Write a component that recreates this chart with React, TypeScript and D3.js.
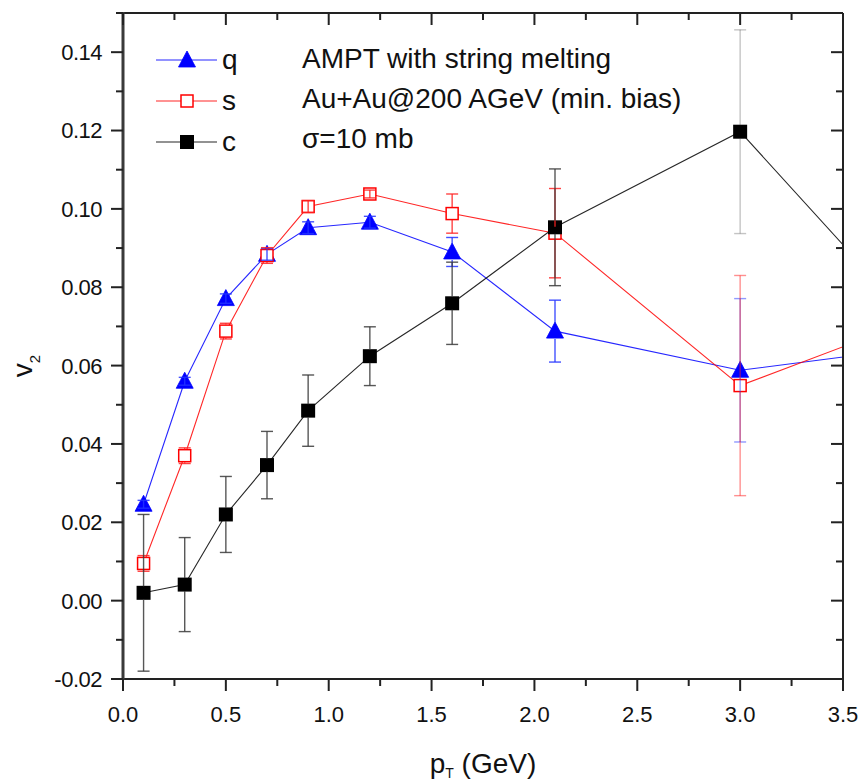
import React from "react";
import * as d3 from "d3";

// ---- data ----
const pT = [0.1, 0.3, 0.5, 0.7, 0.9, 1.2, 1.6, 2.1, 3.0, 4.0];
const qV2 = [0.0246, 0.056, 0.0771, 0.0884, 0.0952, 0.0966, 0.089, 0.0688, 0.0588, 0.0656];
const qErr = [0.001, 0.001, 0.0012, 0.0015, 0.0015, 0.0015, 0.0037, 0.0079, 0.0183, 0];
const sV2 = [0.0095, 0.037, 0.0688, 0.0881, 0.1006, 0.1038, 0.0988, 0.0938, 0.0549, 0.0747];
const sErr = [0.002, 0.002, 0.002, 0.002, 0.0015, 0.001, 0.005, 0.0114, 0.0281, 0];
const cV2 = [0.002, 0.0041, 0.022, 0.0346, 0.0485, 0.0624, 0.0759, 0.0953, 0.1197, 0.062];
const cErr = [0.02, 0.012, 0.0097, 0.0086, 0.0091, 0.0075, 0.0105, 0.0149, 0.026, 0];

const xTicks = [0, 0.5, 1.0, 1.5, 2.0, 2.5, 3.0, 3.5];
const yTicks = [-0.02, 0, 0.02, 0.04, 0.06, 0.08, 0.1, 0.12, 0.14];
const legendLabels = ["q", "s", "c"];
const noteLines = ["AMPT with string melting", "Au+Au@200 AGeV (min. bias)", "\u03C3=10 mb"];

const W = 860, H = 780;
const L = 123, R = 843, T = 13, B = 679;
const FONT = "'Liberation Sans', Arial, Helvetica, sans-serif";

const x = d3.scaleLinear().domain([0, 3.5]).range([L, R]);
const y = d3.scaleLinear().domain([-0.02, 0.15]).range([B, T]);

type Series = { name: string; v: number[]; e: number[]; color: string; marker: "tri" | "open" | "fill" };
const series: Series[] = [
  { name: "q", v: qV2, e: qErr, color: "#0000ff", marker: "tri" },
  { name: "s", v: sV2, e: sErr, color: "#ff0000", marker: "open" },
  { name: "c", v: cV2, e: cErr, color: "#000000", marker: "fill" },
];
const errColor: Record<string, string> = { q: "#2233ff", s: "#ff2222", c: "#3a3a3a" };

function Marker({ kind, cx, cy, color }: { kind: string; cx: number; cy: number; color: string }) {
  if (kind === "tri") {
    const p = d3.path();
    p.moveTo(cx, cy - 9);
    p.lineTo(cx - 8.5, cy + 7);
    p.lineTo(cx + 8.5, cy + 7);
    p.closePath();
    return <path d={p.toString()} fill={color} stroke={color} strokeWidth={0.8} />;
  }
  if (kind === "open") {
    return <rect x={cx - 6} y={cy - 6} width={12} height={12} fill="#fff" stroke={color} strokeWidth={1.5} />;
  }
  return <rect x={cx - 7} y={cy - 7} width={14} height={14} fill={color} />;
}

export default function App() {
  const line = d3.line<number>().x((_, i) => x(pT[i])).y((d) => y(d));
  const xMinor = d3.range(0, 3.5001, 0.25);
  const yMinor = d3.range(-0.02, 0.1501, 0.01);
  const isMajorX = (v: number) => Math.abs(v * 2 - Math.round(v * 2)) < 1e-6;
  const isMajorY = (v: number) => Math.abs(v * 50 - Math.round(v * 50)) < 1e-6;
  const axisCol = "#222";

  return (
    <svg width={W} height={H} style={{ position: "absolute", left: 0, top: 0, background: "#fff" }} fontFamily={FONT}>
      <defs>
        <clipPath id="plotClip">
          <rect x={L} y={T} width={R - L} height={B - T} />
        </clipPath>
      </defs>
      <rect x={0} y={0} width={W} height={H} fill="#fff" />

      {/* data */}
      <g clipPath="url(#plotClip)">
        {series.map((s) => (
          <path key={s.name} d={line(s.v) || ""} fill="none" stroke={s.color} strokeWidth={1.1} strokeOpacity={0.85} />
        ))}
        {series.map((s) => (
          <g key={s.name + "m"}>
            {s.v.map((v, i) => (
              <Marker key={i} kind={s.marker} cx={x(pT[i])} cy={y(v)} color={s.color} />
            ))}
          </g>
        ))}
        {series.map((s) => (
          <g key={s.name + "e"}>
            {s.v.map((v, i) => {
              if (s.e[i] <= 0) return null;
              const cx = x(pT[i]);
              const cy = y(v);
              const top = y(v + s.e[i]);
              const bot = y(v - s.e[i]);
              const half = s.marker === "tri" ? 8 : 6.5;
              const op = pT[i] >= 3 ? (s.name === "c" ? 0.3 : 0.5) : 0.85;
              const col = errColor[s.name];
              const segs: [number, number][] =
                cy - top > half ? [[top, cy - half], [cy + half, bot]] : [[top, bot]];
              return (
                <g key={i} stroke={col} strokeOpacity={op} strokeWidth={1.4}>
                  {segs.map((sg, k) => (
                    <line key={k} x1={cx} x2={cx} y1={sg[0]} y2={sg[1]} />
                  ))}
                  <line x1={cx - 6} x2={cx + 6} y1={top} y2={top} />
                  <line x1={cx - 6} x2={cx + 6} y1={bot} y2={bot} />
                </g>
              );
            })}
          </g>
        ))}
      </g>

      {/* frame */}
      <line x1={L} x2={R} y1={T} y2={T} stroke={axisCol} strokeWidth={2} />
      <line x1={R} x2={R} y1={T} y2={B} stroke={axisCol} strokeWidth={2} />
      <line x1={L - 1} x2={R + 1} y1={B} y2={B} stroke={axisCol} strokeWidth={2} />
      <line x1={L} x2={L} y1={T - 1} y2={B + 1} stroke="#3a3a3a" strokeWidth={3} />

      {/* ticks */}
      {xMinor.map((v, i) => {
        const len = isMajorX(v) ? 12 : 7;
        const xx = x(v);
        return (
          <g key={"xt" + i} stroke={axisCol} strokeWidth={2}>
            <line x1={xx} x2={xx} y1={B} y2={B + len} />
            <line x1={xx} x2={xx} y1={T} y2={T + len} />
          </g>
        );
      })}
      {yMinor.map((v, i) => {
        const len = isMajorY(v) ? 12 : 7;
        const yy = y(v);
        return (
          <g key={"yt" + i} stroke={axisCol} strokeWidth={2}>
            <line x1={L} x2={L - len} y1={yy} y2={yy} />
            <line x1={R} x2={R - len} y1={yy} y2={yy} />
          </g>
        );
      })}

      {/* tick labels */}
      {xTicks.map((v) => (
        <text key={"xl" + v} x={x(v)} y={722} textAnchor="middle" fontSize={22} fill="#111">
          {d3.format(".1f")(v)}
        </text>
      ))}
      {yTicks.map((v) => (
        <text key={"yl" + v} x={102} y={y(v)} dy="0.36em" textAnchor="end" fontSize={22} fill="#111" letterSpacing={-0.5}>
          {d3.format(".2f")(v).replace("\u2212", "-")}
        </text>
      ))}

      {/* axis titles */}
      <text x={483} y={773} textAnchor="middle" fontSize={28} fill="#111">
        p<tspan fontSize={14} dy={5}>T</tspan>
        <tspan dy={-5}> (GeV)</tspan>
      </text>
      <text transform={`translate(32,366) rotate(-90)`} textAnchor="middle" fontSize={28} fill="#111">
        v<tspan fontSize={15} dy={8}>2</tspan>
      </text>

      {/* legend */}
      {series.map((s, i) => {
        const cy = 60 + i * 41;
        return (
          <g key={"lg" + s.name}>
            <line x1={156} x2={217} y1={cy} y2={cy} stroke={s.color} strokeWidth={1.1} strokeOpacity={0.85} />
            <Marker kind={s.marker} cx={187} cy={cy} color={s.color} />
            <text x={222} y={cy + 9} fontSize={28} fill="#111">
              {legendLabels[i]}
            </text>
          </g>
        );
      })}

      {/* annotation */}
      {noteLines.map((t, i) => (
        <text key={"n" + i} x={302} y={68 + i * 40} fontSize={28} fill="#111">
          {t}
        </text>
      ))}
    </svg>
  );
}
